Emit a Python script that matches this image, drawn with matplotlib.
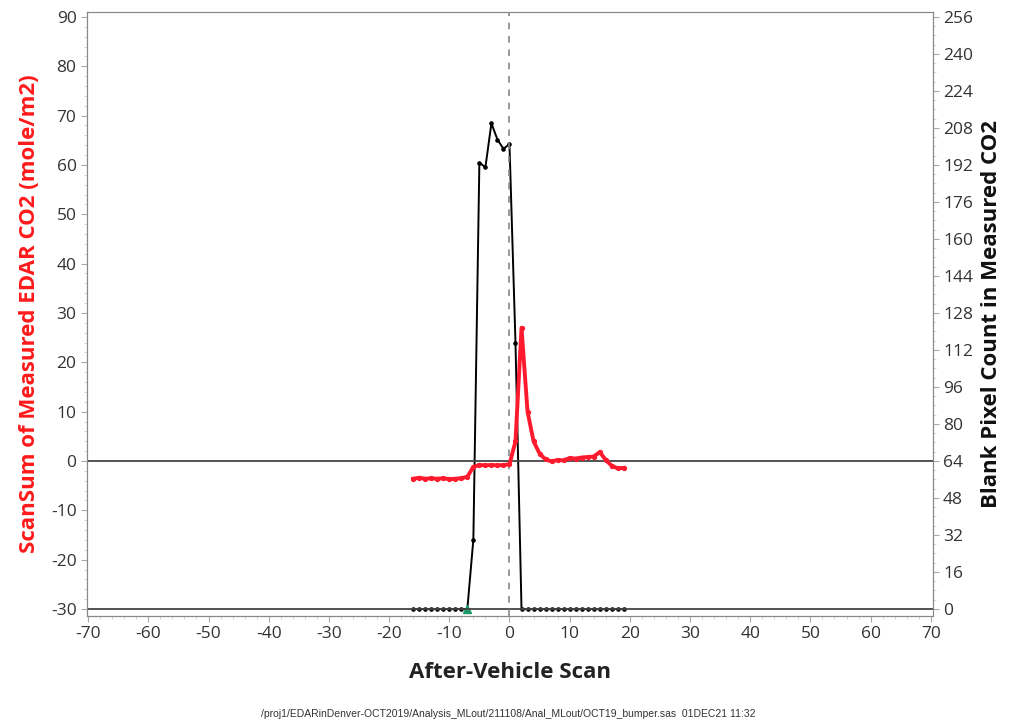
import numpy as np
import matplotlib
matplotlib.use("Agg")
import matplotlib.pyplot as plt
from matplotlib.ticker import MultipleLocator, AutoMinorLocator

plt.rcParams['font.family'] = ['Open Sans', 'DejaVu Sans']
plt.rcParams['axes.unicode_minus'] = False

# scan index (after-vehicle scan)
scan = list(range(-16, 20))

# ScanSum of measured EDAR CO2 (mole/m2), left axis
scansum = [-3.6, -3.4, -3.6, -3.5, -3.6, -3.5, -3.7, -3.6, -3.5, -3.2,
           -1.2, -0.8, -0.9, -0.8, -0.9, -0.8, -0.7,
           4.0, 27.0, 10.0, 4.0, 1.5, 0.3, -0.1, 0.2, 0.1, 0.6, 0.5,
           0.7, 0.8, 0.9, 1.8, 0.2, -1.0, -1.5, -1.4]

# blank pixel count, right axis
blank = [0, 0, 0, 0, 0, 0, 0, 0, 0, 0,
         30, 193, 191, 210, 203, 199, 201,
         115, 0, 0, 0, 0, 0, 0, 0, 0, 0, 0,
         0, 0, 0, 0, 0, 0, 0, 0]

left_ticks = list(range(-30, 91, 10))
right_ticks = list(range(0, 257, 16))
x_ticks = list(range(-70, 71, 10))

fig = plt.figure(figsize=(10.17, 7.28), dpi=100)
ax = fig.add_axes([0.0855, 0.154, 0.8315, 0.8295])
ax2 = ax.twinx()

ylo, yhi = -31.4, 91.0
ax.set_ylim(ylo, yhi)
ax2.set_ylim((ylo + 30) * 256 / 120, (yhi + 30) * 256 / 120)
ax.set_xlim(-70.2, 70.3)

# reference lines
ax.axhline(0, color='#444444', lw=1.3, zorder=1)
ax.axhline(-30, color='#444444', lw=1.3, zorder=1)
ax.axvline(0, color='#888888', lw=1.2, ls=(0, (4, 4)), zorder=1)

ax2.plot(scan, blank, color='black', lw=1.4, marker='o', ms=2.3, zorder=3)
ax2.plot([-7], [0], color='#1a9a6a', marker='^', ms=6, ls='none', zorder=4)
ax.plot(scan, scansum, color='#ff1a2e', lw=2.8, marker='o', ms=2.8, zorder=5)
ax.set_zorder(ax2.get_zorder() + 1)
ax.patch.set_visible(False)

ax.set_xticks(x_ticks)
ax.set_yticks(left_ticks)
ax2.set_yticks(right_ticks)
ax.xaxis.set_minor_locator(AutoMinorLocator(5))
ax.yaxis.set_minor_locator(AutoMinorLocator(5))
ax2.yaxis.set_minor_locator(AutoMinorLocator(4))

for a in (ax, ax2):
    a.tick_params(which='major', length=4, width=0.8, color='#aaaaaa',
                  labelsize=12.5, labelcolor='#333333')
    a.tick_params(which='minor', length=2, width=0.6, color='#cccccc')
    for s in a.spines.values():
        s.set_color('#888888')
        s.set_linewidth(0.8)

ax.set_xlabel('After-Vehicle Scan', fontsize=16, fontweight='bold',
              color='#222222', labelpad=14)
ax.set_ylabel('ScanSum of Measured EDAR CO2 (mole/m2)', fontsize=16,
              fontweight='bold', color='#ff1a1a', labelpad=8)
ax2.set_ylabel('Blank Pixel Count in Measured CO2', fontsize=16,
               fontweight='bold', color='#111111', labelpad=6)

fig.text(0.5, 0.012,
         '/proj1/EDARinDenver-OCT2019/Analysis_MLout/211108/Anal_MLout/OCT19_bumper.sas  01DEC21 11:32',
         ha='center', va='bottom', fontsize=7.5, family=['Liberation Sans', 'DejaVu Sans'],
         color='#333333')

fig.savefig('out.png', dpi=100)
